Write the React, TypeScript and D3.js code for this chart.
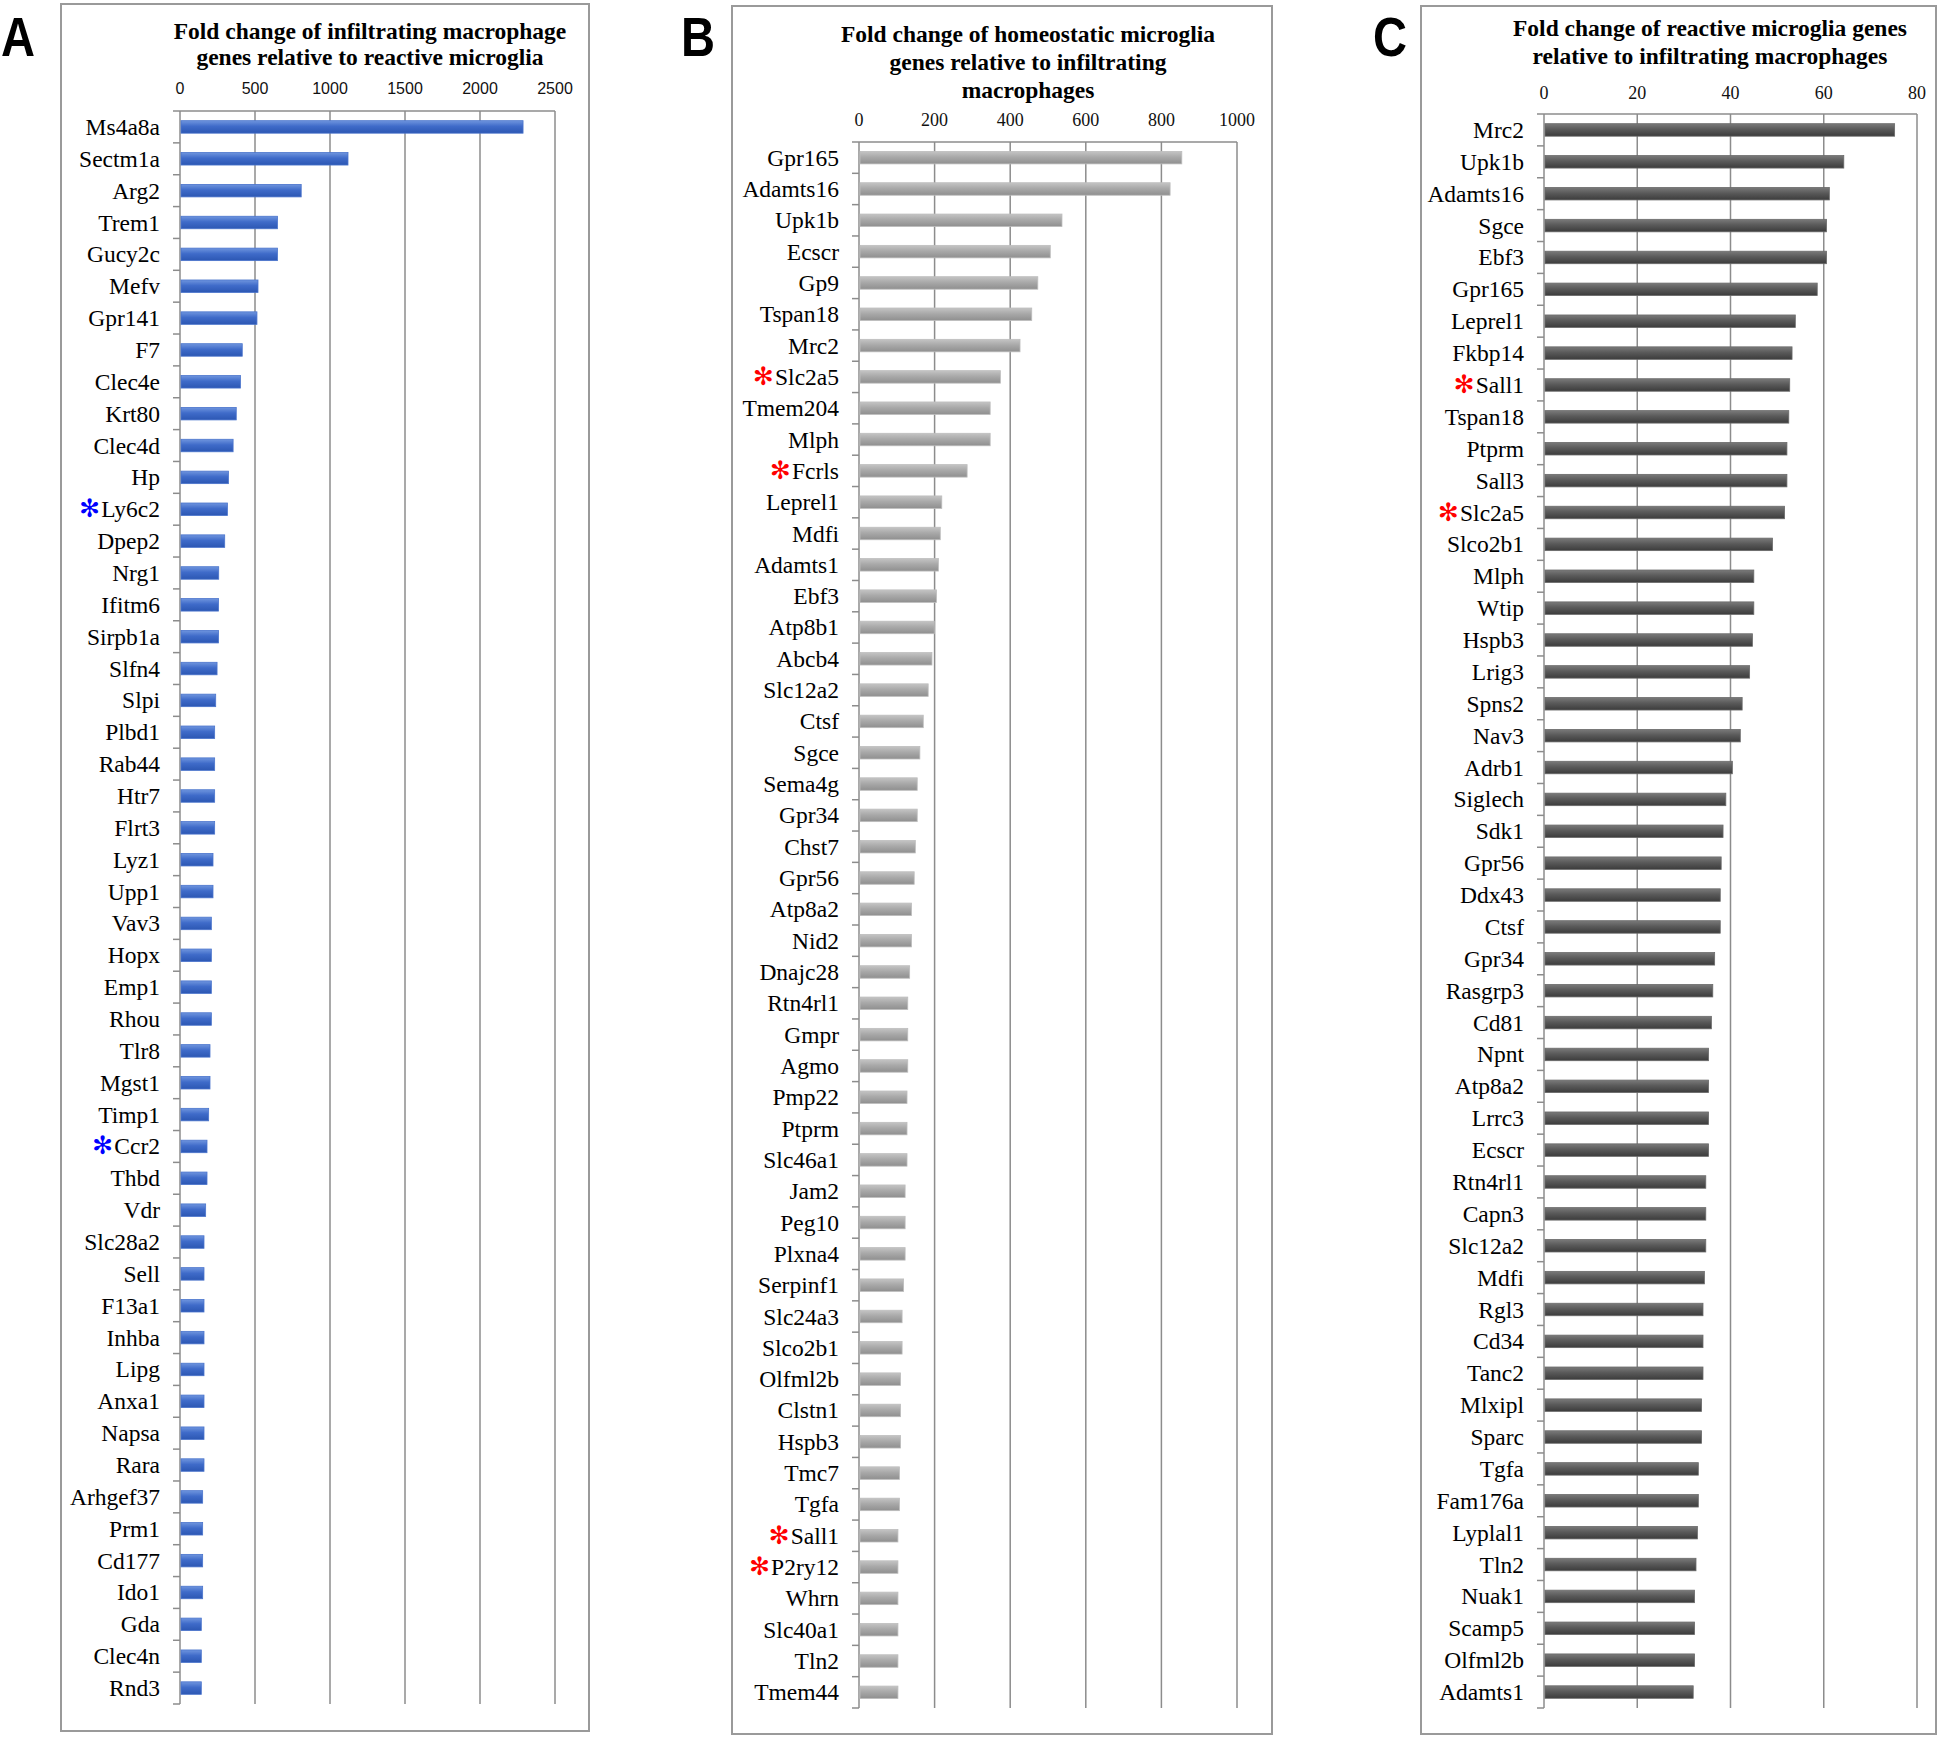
import React from 'react';
import * as d3 from 'd3';

// ---------------- DATA ----------------
const genesA = ['Ms4a8a','Sectm1a','Arg2','Trem1','Gucy2c','Mefv','Gpr141','F7','Clec4e','Krt80','Clec4d','Hp','Ly6c2','Dpep2','Nrg1','Ifitm6','Sirpb1a','Slfn4','Slpi','Plbd1','Rab44','Htr7','Flrt3','Lyz1','Upp1','Vav3','Hopx','Emp1','Rhou','Tlr8','Mgst1','Timp1','Ccr2','Thbd','Vdr','Slc28a2','Sell','F13a1','Inhba','Lipg','Anxa1','Napsa','Rara','Arhgef37','Prm1','Cd177','Ido1','Gda','Clec4n','Rnd3'];
const valuesA = [2287,1120,808,650,650,520,513,415,403,375,354,323,316,298,258,257,257,247,238,231,231,231,231,220,220,209,209,209,209,200,200,191,180,180,171,160,160,160,160,160,160,160,160,151,151,151,151,142,142,142];
const markedA = ['Ly6c2','Ccr2'];
const ticksA = [0,500,1000,1500,2000,2500];
const titleA = ['Fold change of infiltrating macrophage','genes relative to reactive microglia'];

const genesB = ['Gpr165','Adamts16','Upk1b','Ecscr','Gp9','Tspan18','Mrc2','Slc2a5','Tmem204','Mlph','Fcrls','Leprel1','Mdfi','Adamts1','Ebf3','Atp8b1','Abcb4','Slc12a2','Ctsf','Sgce','Sema4g','Gpr34','Chst7','Gpr56','Atp8a2','Nid2','Dnajc28','Rtn4rl1','Gmpr','Agmo','Pmp22','Ptprm','Slc46a1','Jam2','Peg10','Plxna4','Serpinf1','Slc24a3','Slco2b1','Olfml2b','Clstn1','Hspb3','Tmc7','Tgfa','Sall1','P2ry12','Whrn','Slc40a1','Tln2','Tmem44'];
const valuesB = [854,823,537,506,473,457,426,374,347,347,286,219,215,210,205,199,193,183,170,161,154,154,149,146,139,139,134,129,129,129,127,127,127,122,122,122,118,114,114,110,110,110,107,107,103,103,103,103,103,103];
const markedB = ['Slc2a5','Fcrls','Sall1','P2ry12'];
const ticksB = [0,200,400,600,800,1000];
const titleB = ['Fold change of homeostatic microglia','genes relative to infiltrating','macrophages'];

const genesC = ['Mrc2','Upk1b','Adamts16','Sgce','Ebf3','Gpr165','Leprel1','Fkbp14','Sall1','Tspan18','Ptprm','Sall3','Slc2a5','Slco2b1','Mlph','Wtip','Hspb3','Lrig3','Spns2','Nav3','Adrb1','Siglech','Sdk1','Gpr56','Ddx43','Ctsf','Gpr34','Rasgrp3','Cd81','Npnt','Atp8a2','Lrrc3','Ecscr','Rtn4rl1','Capn3','Slc12a2','Mdfi','Rgl3','Cd34','Tanc2','Mlxipl','Sparc','Tgfa','Fam176a','Lyplal1','Tln2','Nuak1','Scamp5','Olfml2b','Adamts1'];
const valuesC = [75.2,64.3,61.2,60.6,60.6,58.6,53.9,53.2,52.7,52.5,52.1,52.1,51.6,49.0,45.0,45.0,44.7,44.1,42.5,42.1,40.4,39.0,38.4,38.0,37.8,37.8,36.6,36.2,35.9,35.3,35.3,35.3,35.3,34.7,34.7,34.7,34.4,34.1,34.1,34.1,33.8,33.8,33.1,33.1,32.9,32.6,32.3,32.3,32.3,32.0];
const markedC = ['Sall1','Slc2a5'];
const ticksC = [0,20,40,60,80];
const titleC = ['Fold change of reactive microglia genes','relative to infiltrating macrophages'];

// ---------------- PANEL ----------------
const SERIF = '"Liberation Serif", "Times New Roman", serif';
const SANS = '"Liberation Sans", Arial, sans-serif';
const GRID = '#8c8c8c';

type PanelProps = {
  id: string;
  letter: string;
  letterX: number;
  genes: string[];
  values: number[];
  marked: string[];
  markColor: string;
  ticks: number[];
  title: string[];
  titleX: number;
  titleY: number[];
  tickY: number;
  tickFont: string;
  tickSize: number;
  frame: { x: number; y: number; w: number; h: number };
  x0: number; x1: number; y0: number; y1: number;
  grad: string[];
  edge: string;
};

function Panel(p: PanelProps) {
  const x = d3.scaleLinear().domain([p.ticks[0], p.ticks[p.ticks.length - 1]]).range([p.x0, p.x1]);
  const y = d3.scaleBand<string>().domain(p.genes).range([p.y0, p.y1]).padding(0);
  const step = y.step();
  const barH = 12.5;
  const boundaries = d3.range(p.genes.length + 1).map((i) => p.y0 + i * step);
  return (
    <g>
      <defs>
        <linearGradient id={p.id} x1="0" y1="0" x2="0" y2="1">
          <stop offset="0%" stopColor={p.grad[0]} />
          <stop offset="45%" stopColor={p.grad[1]} />
          <stop offset="100%" stopColor={p.grad[2]} />
        </linearGradient>
      </defs>
      <rect x={p.frame.x} y={p.frame.y} width={p.frame.w} height={p.frame.h} fill="#fff" stroke="#9a9a9a" strokeWidth={2} />
      <text x={p.letterX} y={56} fontFamily={SANS} fontWeight="bold" fontSize={56} textLength={34} lengthAdjust="spacingAndGlyphs">{p.letter}</text>
      {p.title.map((t, i) => (
        <text key={i} x={p.titleX} y={p.titleY[i]} textAnchor="middle" fontFamily={SERIF} fontWeight="bold" fontSize={23.5}>{t}</text>
      ))}
      {p.ticks.map((t) => (
        <text key={t} x={x(t)} y={p.tickY} textAnchor="middle" fontFamily={p.tickFont} fontSize={p.tickSize} fill="#111">{t}</text>
      ))}
      {p.ticks.map((t) => (
        <line key={'g' + t} x1={x(t)} x2={x(t)} y1={p.y0} y2={p.y1} stroke={GRID} strokeWidth={1.5} />
      ))}
      <line x1={p.x0} x2={p.x1} y1={p.y0} y2={p.y0} stroke={GRID} strokeWidth={1.5} />
      {boundaries.map((b, i) => (
        <line key={'c' + i} x1={p.x0 - 7} x2={p.x0} y1={b} y2={b} stroke={GRID} strokeWidth={1.5} />
      ))}
      {p.genes.map((g, i) => {
        const cy = (y(g) as number) + step / 2;
        return (
          <rect key={'b' + g} x={x(0) + 1} y={cy - barH / 2} width={x(p.values[i]) - x(0) - 1} height={barH}
            fill={`url(#${p.id})`} stroke={p.edge} strokeWidth={0.8} />
        );
      })}
      {p.genes.map((g) => {
        const cy = (y(g) as number) + step / 2;
        const isMarked = p.marked.includes(g);
        return (
          <text key={'l' + g} x={p.x0 - 20} y={cy + 8} textAnchor="end" fontFamily={SERIF} fontSize={23.5} fill="#000">
            {isMarked ? (
              <tspan fill={p.markColor} fontFamily='"DejaVu Sans", sans-serif' fontSize={25} fontWeight="bold" dy={0}>✻</tspan>
            ) : null}
            {isMarked ? <tspan dx={1}>{g}</tspan> : g}
          </text>
        );
      })}
    </g>
  );
}

export default function App() {
  return (
    <svg width={1946} height={1737} viewBox="0 0 1946 1737" style={{ position: 'absolute', left: 0, top: 0, background: '#fff' }}>
      <rect x={0} y={0} width={1946} height={1737} fill="#fff" />
      <Panel id="gA" letter="A" letterX={1} genes={genesA} values={valuesA} marked={markedA} markColor="#0000ff"
        ticks={ticksA} title={titleA} titleX={370} titleY={[39, 65]} tickY={94} tickFont={SANS} tickSize={16}
        frame={{ x: 61, y: 4, w: 528, h: 1727 }} x0={180} x1={555} y0={111} y1={1704}
        grad={['#6f95de', '#3f6bc9', '#2c57b3']} edge="#4a74cc" />
      <Panel id="gB" letter="B" letterX={681} genes={genesB} values={valuesB} marked={markedB} markColor="#ff0000"
        ticks={ticksB} title={titleB} titleX={1028} titleY={[42, 70, 98]} tickY={126} tickFont={SERIF} tickSize={18}
        frame={{ x: 732, y: 6, w: 540, h: 1728 }} x0={859} x1={1237} y0={142} y1={1708}
        grad={['#c4c4c4', '#a9a9a9', '#8f8f8f']} edge="#bdbdbd" />
      <Panel id="gC" letter="C" letterX={1373} genes={genesC} values={valuesC} marked={markedC} markColor="#ff0000"
        ticks={ticksC} title={titleC} titleX={1710} titleY={[36, 64]} tickY={99} tickFont={SERIF} tickSize={18}
        frame={{ x: 1421, y: 6, w: 515, h: 1728 }} x0={1544} x1={1917} y0={114} y1={1708}
        grad={['#7a7a7a', '#5a5a5a', '#3c3c3c']} edge="#6a6a6a" />
    </svg>
  );
}
